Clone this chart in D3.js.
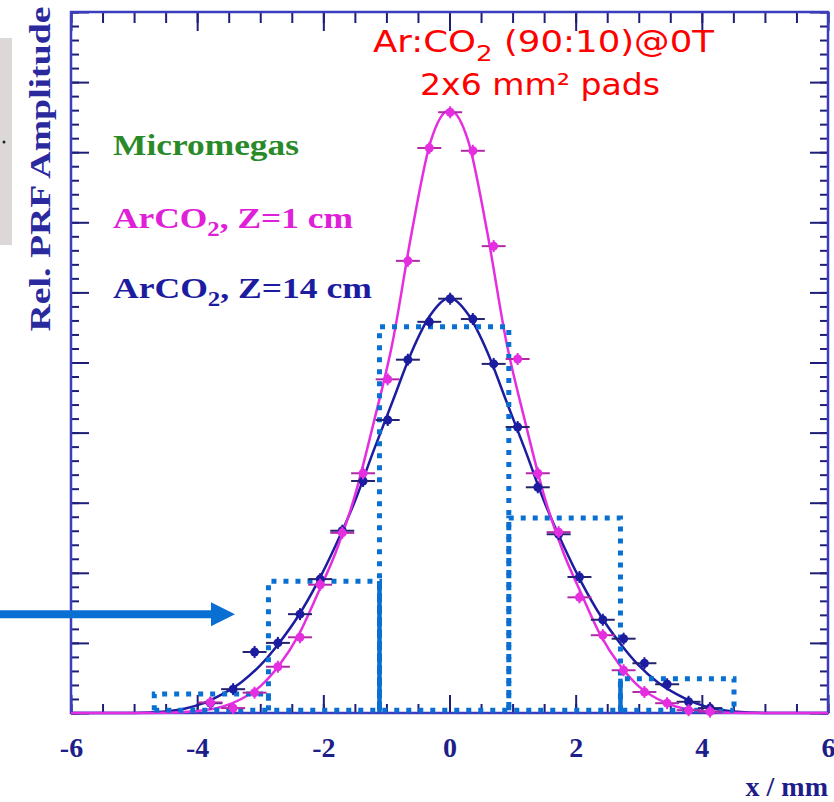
<!DOCTYPE html>
<html>
<head>
<meta charset="utf-8">
<script src="https://cdn.jsdelivr.net/npm/d3@7"></script>
<style>
  body { margin: 0; background: #fff; }
  svg { display: block; }
</style>
</head>
<body>
<svg id="chart"></svg>
<script>
// Chart data (x in mm, amplitude in arbitrary units 0..10)
const xPos = [-3.79, -3.43, -3.09, -2.72, -2.37, -2.05, -1.70, -1.37, -0.98, -0.66, -0.32, 0.01,
              0.37, 0.70, 1.08, 1.40, 1.73, 2.06, 2.43, 2.76, 3.09, 3.45, 3.79, 4.13];
const ampZ1 = [0.15, 0.07, 0.29, 0.66, 1.08, 1.83, 2.57, 3.42, 4.76, 6.45, 8.06, 8.57,
               8.02, 6.66, 5.05, 3.42, 2.58, 1.65, 1.11, 0.61, 0.30, 0.14, 0.04, 0.02];
const ampZ14 = [0.14, 0.34, 0.87, 1.00, 1.41, 1.91, 2.60, 3.31, 4.18, 5.04, 5.58, 5.91,
                5.62, 4.98, 4.08, 3.22, 2.55, 1.94, 1.33, 1.06, 0.71, 0.41, 0.16, 0.07];

// fitted curves
const fitX = [-6, -5, -4.5, -4.2, -3.9, -3.6, -3.3, -3.0, -2.7, -2.4, -2.1, -1.8, -1.5, -1.2, -0.9, -0.6, -0.3, 0,
              0.3, 0.6, 0.9, 1.2, 1.5, 1.8, 2.1, 2.4, 2.7, 3.0, 3.3, 3.6, 3.9, 4.2, 4.5, 5, 6];
const fitZ1 = [0, 0, 0.005, 0.015, 0.04, 0.09, 0.2, 0.38, 0.68, 1.1, 1.68, 2.3, 3.1, 4.15, 5.3, 6.85, 8.15, 8.6,
               8.15, 6.85, 5.3, 4.15, 3.1, 2.3, 1.68, 1.1, 0.68, 0.38, 0.2, 0.09, 0.04, 0.015, 0.005, 0, 0];
const fitZ14 = [0, 0, 0.02, 0.06, 0.14, 0.27, 0.44, 0.68, 1.0, 1.38, 1.85, 2.4, 3.02, 3.75, 4.45, 5.15, 5.68, 5.92,
                5.68, 5.15, 4.45, 3.75, 3.02, 2.4, 1.85, 1.38, 1.0, 0.68, 0.44, 0.27, 0.14, 0.06, 0.02, 0, 0];

// pad boundaries (mm) and charge collected on each pad
const padEdges = [-4.68, -2.87, -1.11, 0.94, 2.71, 4.51];
const padHeights = [0.27, 1.88, 5.51, 2.78, 0.49];
const padBase = 0.04;

const xTickLabels = [-6, -4, -2, 0, 2, 4, 6];

const svgWidth = 834, svgHeight = 802;
const svg = d3.select("#chart").attr("width", svgWidth).attr("height", svgHeight);

const plot = { left: 71, right: 828, top: 12, bottom: 713 };

const x = d3.scaleLinear().domain([-6, 6]).range([plot.left, plot.right]);
const y = d3.scaleLinear().domain([0, 10]).range([plot.bottom, plot.top]);

const frameColor = "#3c3cc0";
const tickColor = "#1e1e78";
const blueCol = "#1c1ca0";
const magCol = "#e52ee0";
const padCol = "#0a6fd2";

// small grey panel at the far left
svg.append("rect").attr("x", 0).attr("y", 38).attr("width", 12).attr("height", 207)
  .attr("fill", "#ddd8d8");
svg.append("circle").attr("cx", 4).attr("cy", 142).attr("r", 1.5).attr("fill", "#222");

// axes (ticks drawn inward on all four sides)
function styleAxis(g) {
  g.select(".domain").remove();
  g.selectAll(".tick line").attr("stroke", tickColor).attr("stroke-width", 2);
}

svg.append("g").attr("transform", `translate(0,${plot.bottom})`)
  .call(d3.axisBottom(x).tickValues(d3.range(-6, 6.01, 0.5)).tickSize(-9).tickFormat(""))
  .call(styleAxis);
svg.append("g").attr("transform", `translate(0,${plot.bottom})`)
  .call(d3.axisBottom(x).tickValues(xTickLabels).tickSize(-18).tickPadding(24)
    .tickFormat(d => String(d)))
  .call(styleAxis)
  .call(g => g.selectAll("text")
    .attr("fill", "#1e1e8a").attr("font-family", "'Liberation Serif', serif")
    .attr("font-weight", "bold").attr("font-size", 28));

svg.append("g").attr("transform", `translate(0,${plot.top})`)
  .call(d3.axisTop(x).tickValues(d3.range(-6, 6.01, 0.5)).tickSize(-11).tickFormat(""))
  .call(styleAxis);
svg.append("g").attr("transform", `translate(0,${plot.top})`)
  .call(d3.axisTop(x).tickValues(xTickLabels).tickSize(-19).tickFormat(""))
  .call(styleAxis);

[[plot.left, d3.axisRight], [plot.right, d3.axisLeft]].forEach(([px, ax]) => {
  svg.append("g").attr("transform", `translate(${px},0)`)
    .call(ax(y).tickValues(d3.range(0, 10.01, 0.2)).tickSize(8).tickFormat(""))
    .call(styleAxis);
  svg.append("g").attr("transform", `translate(${px},0)`)
    .call(ax(y).tickValues(d3.range(0, 10.01, 1)).tickSize(18).tickFormat(""))
    .call(styleAxis);
});

svg.append("rect")
  .attr("x", plot.left).attr("y", plot.top)
  .attr("width", plot.right - plot.left).attr("height", plot.bottom - plot.top)
  .attr("fill", "none").attr("stroke", frameColor).attr("stroke-width", 2.5);

// fitted curves
const line = d3.line().x(d => x(d[0])).y(d => y(d[1])).curve(d3.curveMonotoneX);
svg.append("path").datum(fitX.map((v, i) => [v, fitZ14[i]]))
  .attr("d", line).attr("fill", "none").attr("stroke", blueCol).attr("stroke-width", 2.5);
svg.append("path").datum(fitX.map((v, i) => [v, fitZ1[i]]))
  .attr("d", line).attr("fill", "none").attr("stroke", magCol).attr("stroke-width", 2.5);

// pads as dotted boxes
const pads = padHeights.map((h, i) => ({ x0: padEdges[i], x1: padEdges[i + 1], h }));
svg.selectAll(".pad").data(pads).enter().append("path")
  .attr("class", "pad")
  .attr("d", d => `M${x(d.x0)},${y(padBase)}V${y(d.h)}H${x(d.x1)}V${y(padBase)}`)
  .attr("fill", "none").attr("stroke", padCol).attr("stroke-width", 5)
  .attr("stroke-dasharray", "5 7");
svg.append("path")
  .attr("d", `M${x(padEdges[0])},${y(padBase)}H${x(padEdges[padEdges.length - 1])}`)
  .attr("fill", "none").attr("stroke", padCol).attr("stroke-width", 5)
  .attr("stroke-dasharray", "5 7");
// two solid edges
[[padEdges[2], padHeights[1]], [padEdges[4], padHeights[4]]].forEach(([px, h]) => {
  svg.append("line").attr("x1", x(px)).attr("x2", x(px))
    .attr("y1", y(h)).attr("y2", y(padBase) + 2)
    .attr("stroke", padCol).attr("stroke-width", 4.5);
});

// data points with error bars
function drawPoints(vals, col, barCol) {
  const pts = xPos.map((v, i) => ({ x: v, a: vals[i] }));
  const g = svg.append("g");
  g.selectAll(".hb").data(pts).enter().append("line")
    .attr("x1", d => x(d.x - 0.19)).attr("x2", d => x(d.x + 0.19))
    .attr("y1", d => y(d.a)).attr("y2", d => y(d.a))
    .attr("stroke", barCol).attr("stroke-width", 2);
  g.selectAll(".vb").data(pts).enter().append("line")
    .attr("x1", d => x(d.x)).attr("x2", d => x(d.x))
    .attr("y1", d => y(d.a) - 6).attr("y2", d => y(d.a) + 6)
    .attr("stroke", col).attr("stroke-width", 2);
  g.selectAll("circle").data(pts).enter().append("circle")
    .attr("cx", d => x(d.x)).attr("cy", d => y(d.a)).attr("r", 4.5)
    .attr("fill", col);
}
drawPoints(ampZ14, blueCol, "#23236e");
drawPoints(ampZ1, magCol, "#b02aa8");

// arrow pointing at the left pads
const arrowFrom = -7.13, arrowTo = -3.40, arrowY = 1.41;
svg.append("line").attr("x1", x(arrowFrom)).attr("x2", x(arrowTo) - 20)
  .attr("y1", y(arrowY)).attr("y2", y(arrowY))
  .attr("stroke", padCol).attr("stroke-width", 8);
svg.append("path")
  .attr("d", `M${x(arrowTo)},${y(arrowY)}L${x(arrowTo) - 24},${y(arrowY) - 12}L${x(arrowTo) - 24},${y(arrowY) + 12}Z`)
  .attr("fill", padCol);

// texts
const serif = "'Liberation Serif', 'Times New Roman', serif";
svg.append("text")
  .attr("transform", "translate(50,169) rotate(-90)")
  .attr("text-anchor", "middle")
  .attr("font-family", serif).attr("font-weight", "bold").attr("font-size", 30)
  .attr("fill", "#2a2a9e")
  .attr("textLength", 325).attr("lengthAdjust", "spacingAndGlyphs")
  .text("Rel. PRF Amplitude");

svg.append("text")
  .attr("x", 828).attr("y", 796).attr("text-anchor", "end")
  .attr("font-family", serif).attr("font-weight", "bold").attr("font-size", 28)
  .attr("fill", "#1e1e8a")
  .text("x / mm");

svg.append("text")
  .attr("x", 113).attr("y", 155)
  .attr("font-family", serif).attr("font-weight", "bold").attr("font-size", 30)
  .attr("fill", "#2a8a2a")
  .attr("textLength", 186).attr("lengthAdjust", "spacingAndGlyphs")
  .text("Micromegas");

function legendLine(yy, col, rest, len) {
  const t = svg.append("text")
    .attr("x", 113).attr("y", yy)
    .attr("font-family", serif).attr("font-weight", "bold").attr("font-size", 30)
    .attr("fill", col)
    .attr("textLength", len).attr("lengthAdjust", "spacingAndGlyphs");
  t.append("tspan").text("ArCO");
  t.append("tspan").attr("dy", 8).attr("font-size", 21).text("2");
  t.append("tspan").attr("dy", -8).text(rest);
}
legendLine(228, "#e020d8", ", Z=1 cm", 240);
legendLine(298, "#1c1ca0", ", Z=14 cm", 259);

const title = svg.append("text")
  .attr("x", 373).attr("y", 52)
  .attr("font-family", "'DejaVu Sans', sans-serif").attr("font-size", 30)
  .attr("fill", "#ff0000")
  .attr("textLength", 341).attr("lengthAdjust", "spacingAndGlyphs");
title.append("tspan").text("Ar:CO");
title.append("tspan").attr("dy", 9).attr("font-size", 22).text("2");
title.append("tspan").attr("dy", -9).text(" (90:10)@0T");

svg.append("text")
  .attr("x", 420).attr("y", 95)
  .attr("font-family", "'DejaVu Sans', sans-serif").attr("font-size", 30)
  .attr("fill", "#ff0000")
  .attr("textLength", 240).attr("lengthAdjust", "spacingAndGlyphs")
  .text("2x6 mm² pads");
</script>
</body>
</html>
